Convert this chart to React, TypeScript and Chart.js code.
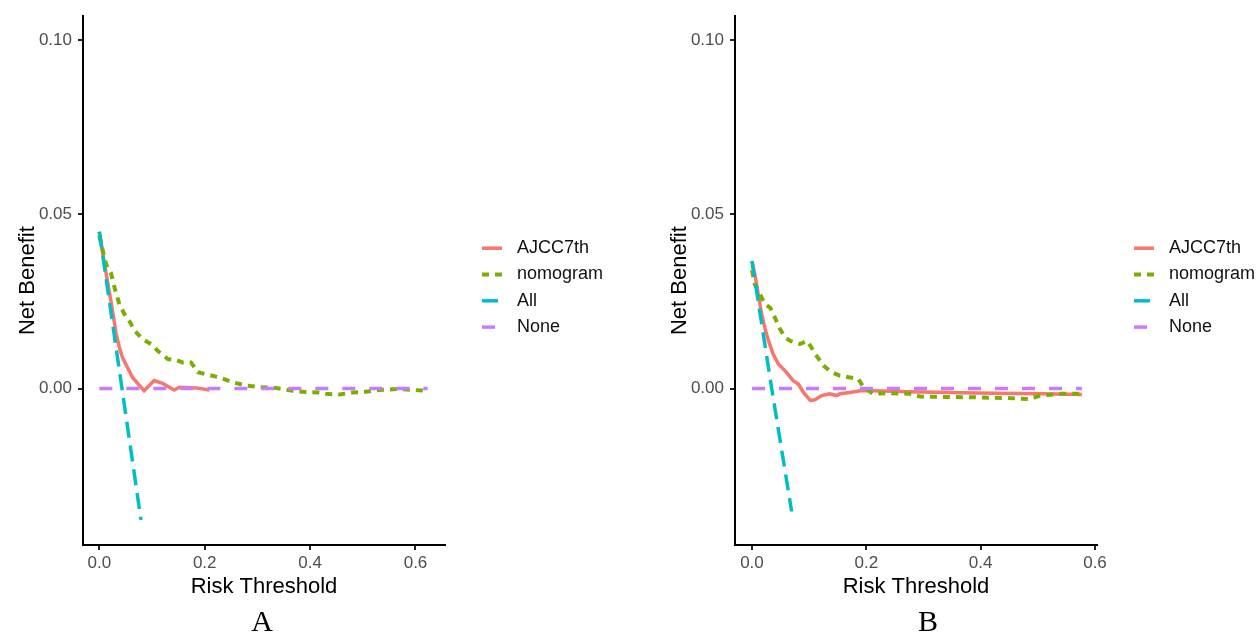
import React, { useEffect, useRef } from 'react';
import { Chart, registerables } from 'chart.js';

Chart.register(...registerables);

const seriesNames = ['AJCC7th', 'nomogram', 'All', 'None'];
const seriesColors = ['#F8766D', '#7CAE00', '#00BFC4', '#C77CFF'];

const xTicks = [0, 0.2, 0.4, 0.6];
const yTicks = [0, 0.05, 0.1];

// Panel A
const aAjccX = [0, 0.011, 0.022, 0.032, 0.038, 0.044, 0.063, 0.085, 0.104, 0.12, 0.142, 0.152, 0.184, 0.209];
const aAjccY = [0.045, 0.0347, 0.0251, 0.0157, 0.0118, 0.0089, 0.0032, -0.0006, 0.0023, 0.0015, -0.0004, 0.0004, 0.0002, -0.0004];
const aNomoX = [0, 0.003, 0.013, 0.022, 0.029, 0.038, 0.048, 0.057, 0.067, 0.082, 0.098, 0.114, 0.13, 0.146, 0.158, 0.174, 0.187, 0.206, 0.228, 0.253, 0.279, 0.304, 0.335, 0.367, 0.392, 0.415, 0.43, 0.456, 0.481, 0.506, 0.532, 0.57, 0.595, 0.623];
const aNomoY = [0.044, 0.0418, 0.0356, 0.0332, 0.0289, 0.0242, 0.0213, 0.0194, 0.0166, 0.0142, 0.0128, 0.0104, 0.0085, 0.0082, 0.0075, 0.0075, 0.0047, 0.004, 0.0032, 0.0018, 0.0009, 0.0004, 0.0002, -0.0006, -0.001, -0.0011, -0.0015, -0.0017, -0.0011, -0.0009, -0.0004, -0.0001, -0.0004, -0.0006];
const aAllX = [0, 0.043, 0.079];
const aAllY = [0.045, 0, -0.0377];
const aNoneX = [0, 0.623];
const aNoneY = [0, 0];

// Panel B
const bAjccX = [0, 0.005, 0.011, 0.017, 0.023, 0.029, 0.037, 0.046, 0.058, 0.072, 0.081, 0.09, 0.102, 0.11, 0.122, 0.136, 0.148, 0.154, 0.171, 0.189, 0.212, 0.274, 0.391, 0.507, 0.577];
const bAjccY = [0.0366, 0.0328, 0.027, 0.0213, 0.0171, 0.0137, 0.0099, 0.0071, 0.0051, 0.0023, 0.0013, -0.0011, -0.0034, -0.0032, -0.002, -0.0015, -0.002, -0.0015, -0.0011, -0.0006, -0.0006, -0.0009, -0.0013, -0.0015, -0.0017];
const bNomoX = [0, 0.005, 0.014, 0.023, 0.032, 0.04, 0.049, 0.058, 0.067, 0.075, 0.084, 0.096, 0.104, 0.113, 0.125, 0.139, 0.154, 0.171, 0.186, 0.195, 0.204, 0.212, 0.241, 0.276, 0.294, 0.387, 0.445, 0.486, 0.504, 0.539, 0.562, 0.577];
const bNomoY = [0.034, 0.0299, 0.0271, 0.0242, 0.0232, 0.0204, 0.0171, 0.0147, 0.0137, 0.0132, 0.0128, 0.0137, 0.0118, 0.0094, 0.0066, 0.0047, 0.0037, 0.0032, 0.0028, 0.0004, -0.0006, -0.0015, -0.0013, -0.0015, -0.0023, -0.0025, -0.0027, -0.003, -0.002, -0.0015, -0.0015, -0.0015];
const bAllX = [0, 0.0345, 0.0694];
const bAllY = [0.0366, 0, -0.0353];
const bNoneX = [0, 0.577];
const bNoneY = [0, 0];

const FONT = '"Liberation Sans", Arial, Helvetica, sans-serif';
const lineWidths = [3.5, 4, 3.5, 3.5];
const lineDashes: number[][] = [[], [7, 6], [16, 8], [13, 14]];
const drawOrder = [4, 3, 2, 1];

const legendPlugin = {
  id: 'ggLegend',
  afterDraw(chart: any) {
    const { ctx, chartArea } = chart;
    ctx.save();
    chart.data.datasets.forEach((ds: any, i: number) => {
      const y = chartArea.top + 232 + i * 26.3;
      const x0 = chartArea.right + 37;
      ctx.beginPath();
      ctx.setLineDash(ds.borderDash || []);
      ctx.lineWidth = ds.borderWidth;
      ctx.strokeStyle = ds.borderColor;
      ctx.moveTo(x0, y);
      ctx.lineTo(x0 + 20, y);
      ctx.stroke();
      ctx.setLineDash([]);
      ctx.fillStyle = '#111';
      ctx.font = `18px ${FONT}`;
      ctx.textBaseline = 'middle';
      ctx.textAlign = 'left';
      ctx.fillText(ds.label, chartArea.right + 72, y);
    });
    ctx.restore();
  },
};

type Series = { x: number[]; y: number[] };

function Panel(props: { left: number; width: number; xMin: number; xMax: number; rightPad: number; series: Series[] }) {
  const { left, width, xMin, xMax, rightPad, series } = props;
  const ref = useRef<HTMLCanvasElement>(null);
  useEffect(() => {
    const chart = new Chart(ref.current as HTMLCanvasElement, {
      type: 'line',
      data: {
        datasets: series.map((s, i) => ({
          label: seriesNames[i],
          data: s.x.map((x, j) => ({ x, y: s.y[j] })),
          borderColor: seriesColors[i],
          backgroundColor: seriesColors[i],
          borderWidth: lineWidths[i],
          borderDash: lineDashes[i],
          borderCapStyle: 'butt',
          pointRadius: 0,
          fill: false,
          tension: 0,
          order: drawOrder[i],
        })),
      },
      options: {
        animation: false,
        responsive: false,
        maintainAspectRatio: false,
        layout: { padding: { top: 14, right: rightPad, left: 0, bottom: 0 } },
        plugins: { legend: { display: false }, tooltip: { enabled: false } },
        scales: {
          x: {
            type: 'linear',
            min: xMin,
            max: xMax,
            afterBuildTicks: (s: any) => {
              s.ticks = xTicks.map((v) => ({ value: v }));
            },
            afterFit: (s: any) => {
              s.height = 65;
            },
            ticks: {
              callback: (v: any) => Number(v).toFixed(1),
              color: '#4D4D4D',
              font: { family: FONT, size: 17 },
              padding: 3,
              maxRotation: 0,
              autoSkip: false,
            },
            grid: { display: true, drawOnChartArea: false, drawTicks: true, tickLength: 5, color: '#222', lineWidth: 2 },
            border: { display: true, color: '#000', width: 2 },
            title: { display: true, text: 'Risk Threshold', color: '#000', font: { family: FONT, size: 22 }, padding: { top: 0, bottom: 10 } },
          },
          y: {
            type: 'linear',
            min: -0.0449,
            max: 0.1069,
            afterBuildTicks: (s: any) => {
              s.ticks = yTicks.map((v) => ({ value: v }));
            },
            afterFit: (s: any) => {
              s.width = 83;
            },
            ticks: {
              callback: (v: any) => Number(v).toFixed(2),
              color: '#4D4D4D',
              font: { family: FONT, size: 17 },
              padding: 6,
              autoSkip: false,
            },
            grid: { display: true, drawOnChartArea: false, drawTicks: true, tickLength: 5, color: '#222', lineWidth: 2 },
            border: { display: true, color: '#000', width: 2 },
            title: { display: true, text: 'Net Benefit', color: '#000', font: { family: FONT, size: 22 }, padding: { top: 15, bottom: 0 } },
          },
        },
      } as any,
      plugins: [legendPlugin],
    });
    return () => chart.destroy();
  }, []);
  return (
    <canvas
      ref={ref}
      width={width}
      height={610}
      style={{ position: 'absolute', left, top: 0, width, height: 610 }}
    />
  );
}

const labelStyle = (center: number): React.CSSProperties => ({
  position: 'absolute',
  left: center - 50,
  width: 100,
  top: 606,
  textAlign: 'center',
  fontFamily: '"Liberation Serif", "Times New Roman", serif',
  fontSize: 30,
  lineHeight: '30px',
  color: '#000',
});

export default function App() {
  return (
    <div style={{ position: 'fixed', left: 0, top: 0, width: 1257, height: 634, background: '#fff', overflow: 'hidden' }}>
      <Panel
        left={0}
        width={640}
        xMin={-0.031}
        xMax={0.656}
        rightPad={195}
        series={[
          { x: aAjccX, y: aAjccY },
          { x: aNomoX, y: aNomoY },
          { x: aAllX, y: aAllY },
          { x: aNoneX, y: aNoneY },
        ]}
      />
      <Panel
        left={652}
        width={605}
        xMin={-0.0297}
        xMax={0.6035}
        rightPad={160}
        series={[
          { x: bAjccX, y: bAjccY },
          { x: bNomoX, y: bNomoY },
          { x: bAllX, y: bAllY },
          { x: bNoneX, y: bNoneY },
        ]}
      />
      <div style={labelStyle(262)}>A</div>
      <div style={labelStyle(928)}>B</div>
    </div>
  );
}
